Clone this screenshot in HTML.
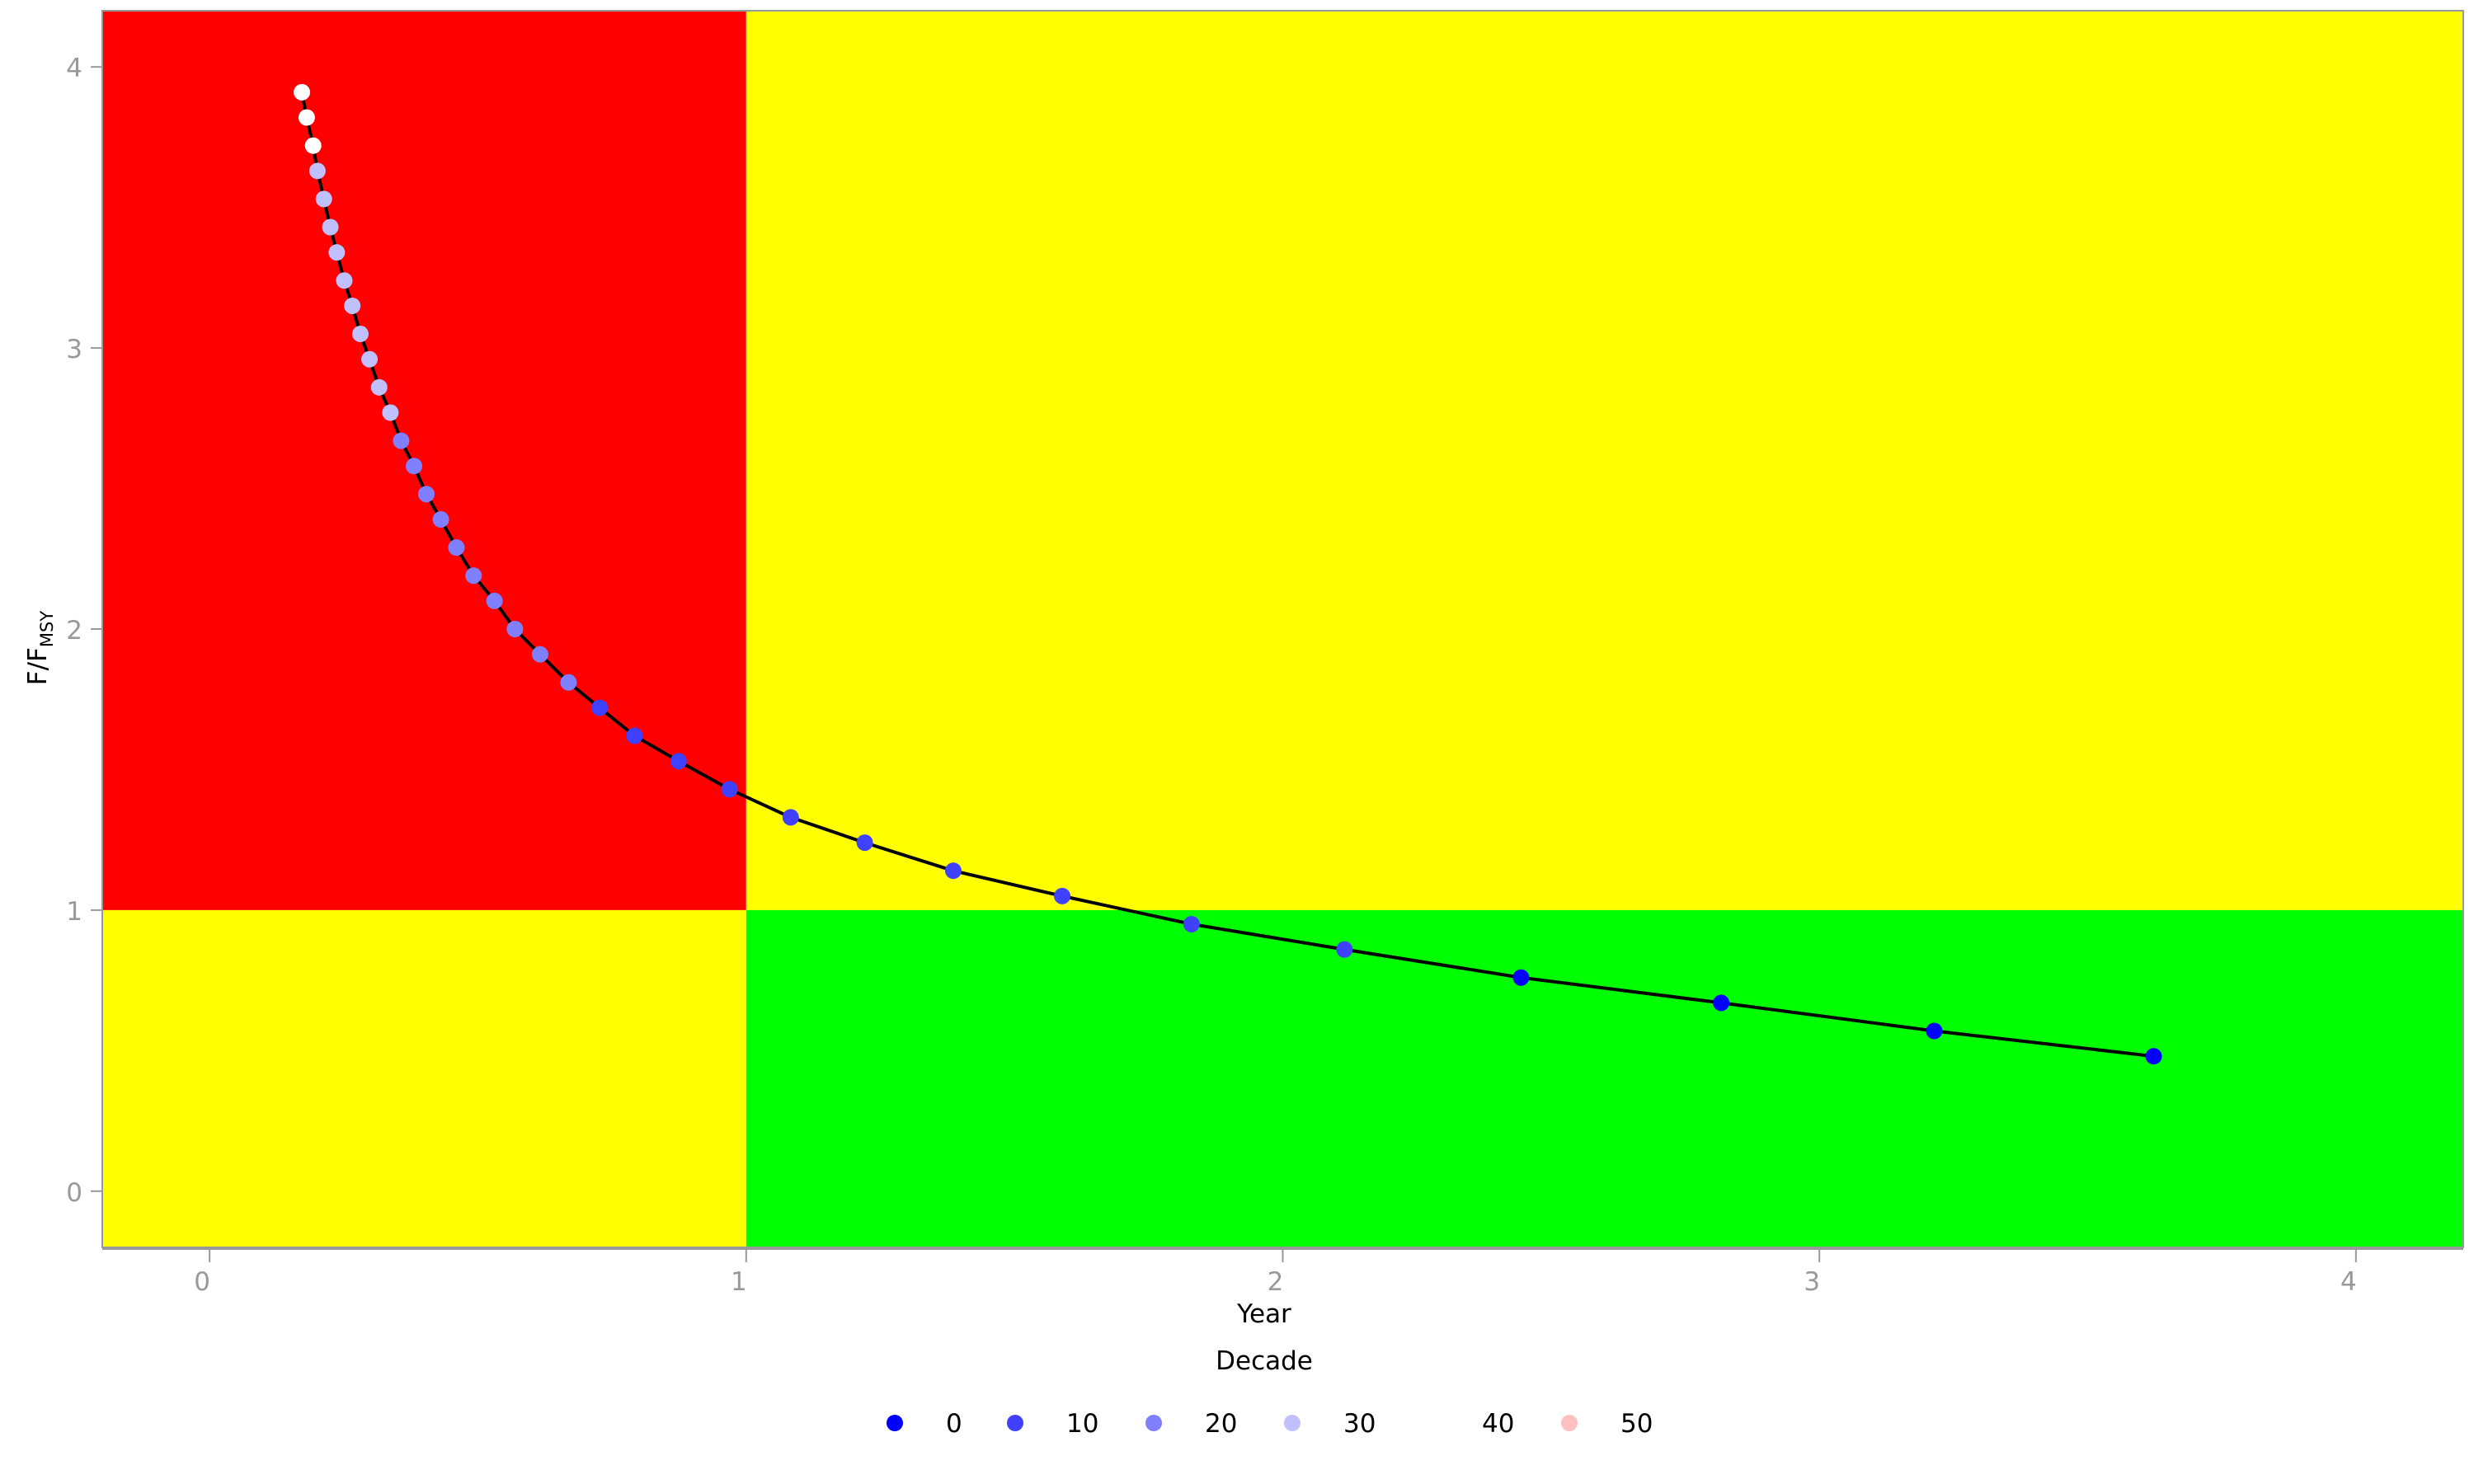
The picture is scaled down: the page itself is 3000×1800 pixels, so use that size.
<!DOCTYPE html>
<html><head><meta charset="utf-8"><style>
html,body{margin:0;padding:0;background:#fff;}
svg{display:block;font-family:"DejaVu Sans","Liberation Sans",sans-serif;}
</style></head><body>
<svg id="chart" width="3000" height="1800">
<g id="bg"></g><g id="axes"></g><g id="series"></g><g id="legend"></g>
</svg>
<script>
const xValues=[0.172,0.181,0.193,0.201,0.213,0.225,0.237,0.251,0.266,0.281,0.298,0.316,0.337,0.357,0.381,0.404,0.431,0.460,0.492,0.531,0.569,0.616,0.669,0.727,0.792,0.874,0.969,1.083,1.221,1.386,1.589,1.830,2.115,2.444,2.817,3.214,3.623];
const yValues=[3.91,3.82,3.72,3.63,3.53,3.43,3.34,3.24,3.15,3.05,2.96,2.86,2.77,2.67,2.58,2.48,2.39,2.29,2.19,2.10,2.00,1.91,1.81,1.72,1.62,1.53,1.43,1.33,1.24,1.14,1.05,0.95,0.86,0.76,0.67,0.57,0.48];
const decades=[40,40,40,30,30,30,30,30,30,30,30,30,30,20,20,20,20,20,20,20,20,20,20,10,10,10,10,10,10,10,10,10,10,0,0,0,0];
const legendLabels=[0,10,20,30,40,50];
const legendColors=["#0000ff","#4040ff","#8080ff","#c0c0ff","#ffffff","#ffc0c0"];
const xTicks=[0,1,2,3,4];
const yTicks=[0,1,2,3,4];
const NS="http://www.w3.org/2000/svg";
const L=124,R=2987,T=13,B=1513,MIN=-0.2,MAX=4.2;
const sx=v=>L+(v-MIN)/(MAX-MIN)*(R-L);
const sy=v=>B-(v-MIN)/(MAX-MIN)*(B-T);
function mk(tag,attrs,parent,text){const e=document.createElementNS(NS,tag);for(const k in attrs)e.setAttribute(k,attrs[k]);if(text!==undefined)e.textContent=text;parent.appendChild(e);return e;}
const bg=document.getElementById('bg'),ax=document.getElementById('axes'),se=document.getElementById('series'),lg=document.getElementById('legend');
const quads=[["red-zone",L,T,sx(1),sy(1),"#ff0000"],["upper-yellow-zone",sx(1),T,R,sy(1),"#ffff00"],["lower-yellow-zone",L,sy(1),sx(1),B,"#ffff00"],["green-zone",sx(1),sy(1),R,B,"#00ff00"]];
quads.forEach(q=>{const r=mk('rect',{x:q[1],y:q[2],width:q[3]-q[1],height:q[4]-q[2],fill:q[5]},bg);

});
const fr=mk('rect',{x:L,y:T,width:R-L,height:B-T,fill:'none',stroke:'#999',"stroke-width":2},bg);


mk('line',{x1:L,x2:R,y1:B+1,y2:B+1,stroke:'#999',"stroke-width":4},bg);
xTicks.forEach(t=>{const g=mk('g',{},ax);


mk('line',{x1:sx(t),x2:sx(t),y1:B,y2:B+18,stroke:'#999',"stroke-width":2},g);
mk('text',{x:sx(t)-9,y:1565,"text-anchor":"middle","font-size":31,fill:'#999'},g,String(t));});
yTicks.forEach(t=>{const g=mk('g',{},ax);


mk('line',{x1:L-14,x2:L,y1:sy(t),y2:sy(t),stroke:'#999',"stroke-width":2},g);
mk('text',{x:100,y:sy(t)+12,"text-anchor":"end","font-size":31,fill:'#999'},g,String(t));});
const xt=mk('text',{x:1533,y:1604,"text-anchor":"middle","font-size":31,fill:'#000'},ax,'Year');


const yt=mk('text',{transform:'translate(56,786) rotate(-90)',"text-anchor":"middle","font-size":31,fill:'#000'},ax);


mk('tspan',{},yt,'F/F');mk('tspan',{"font-size":21,dy:8},yt,'MSY');
const pts=xValues.map((x,i)=>sx(x)+','+sy(yValues[i])).join(' ');
const pl=mk('polyline',{points:pts,fill:'none',stroke:'#000',"stroke-width":4,"stroke-linejoin":'round'},se);


xValues.forEach((x,i)=>{const c=mk('circle',{cx:sx(x),cy:sy(yValues[i]),r:10,fill:legendColors[legendLabels.indexOf(decades[i])]},se);

});
const lt=mk('text',{x:1533,y:1661,"text-anchor":"middle","font-size":31,fill:'#000'},lg,'Decade');


const lx=[1085,1231,1399,1567,1735,1903];
legendLabels.forEach((d,i)=>{const g=mk('g',{},lg);


mk('circle',{cx:lx[i],cy:1726,r:10,fill:legendColors[i]},g);
mk('text',{x:lx[i]+62,y:1737,"text-anchor":"start","font-size":31,fill:'#000'},g,String(d));});
</script>
</body></html>
